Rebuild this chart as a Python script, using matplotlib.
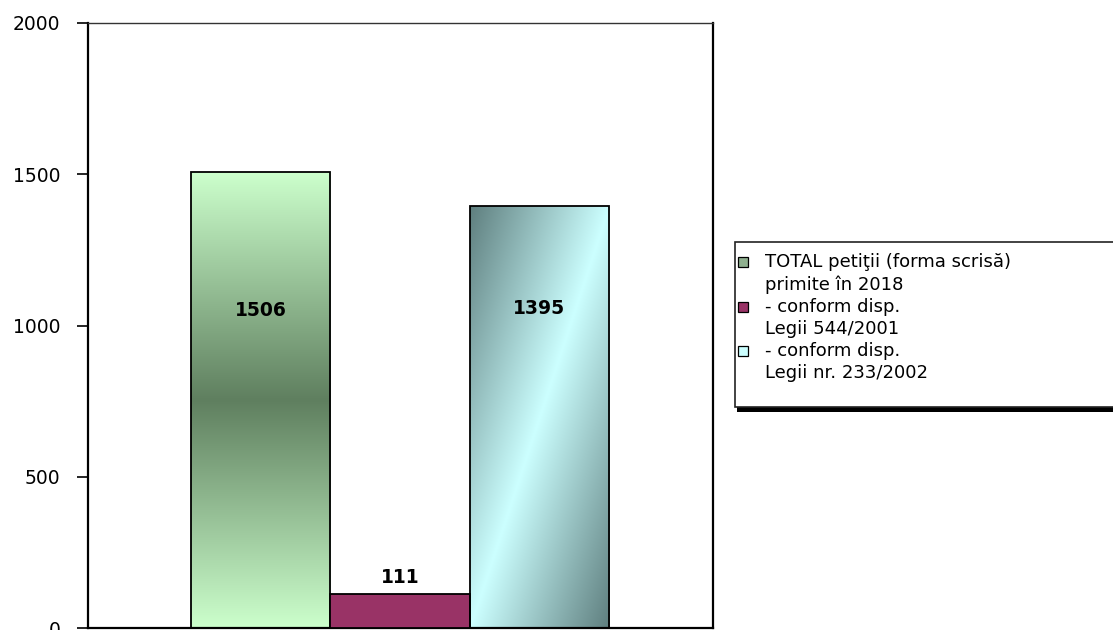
import numpy as np
import matplotlib
matplotlib.use("Agg")
import matplotlib.pyplot as plt
from matplotlib.patches import Rectangle
from matplotlib.colors import to_rgb

# Petition counts received in 2018
series_labels = [
    "TOTAL petiţii (forma scrisă)\nprimite în 2018",
    "- conform disp.\nLegii 544/2001",
    "- conform disp.\nLegii nr. 233/2002",
]
values = [1506, 111, 1395]
y_ticks = [0, 500, 1000, 1500, 2000]

plt.rcParams["font.family"] = ["DejaVu Sans"]

W, H = 1113, 630
fig = plt.figure(figsize=(W / 100, H / 100), dpi=100)
ax = fig.add_axes([88 / W, 2 / H, (713 - 88) / W, (628 - 23) / H])

offsets = [-1.0, 0.0, 1.0]
width = 1.0

light_green, dark_green = np.array(to_rgb("#CCFFCC")), np.array(to_rgb("#5F7F5F"))
light_teal, dark_teal = np.array(to_rgb("#CCFFFF")), np.array(to_rgb("#5F7F7F"))
solid_plum = "#993366"


def vertical_band(n=256):
    # light at top and bottom, dark in the middle
    v = np.linspace(0, 1, n)[:, None]
    f = 1 - np.abs(2 * v - 1)
    img = light_green[None, None, :] * (1 - f[..., None]) + dark_green[None, None, :] * f[..., None]
    return np.repeat(img, 4, axis=1)


def diagonal_band(ny=256, nx=128):
    # dark at top-left and bottom-right corners, light along the other diagonal
    v = np.linspace(0, 1, ny)[:, None]
    u = np.linspace(0, 1, nx)[None, :]
    f = np.abs(u + v - 1)
    return light_teal[None, None, :] * (1 - f[..., None]) + dark_teal[None, None, :] * f[..., None]


fills = [vertical_band(), None, diagonal_band()]

for off, val, fill in zip(offsets, values, fills):
    x0 = off - width / 2
    if fill is None:
        ax.bar(off, val, width=width, color=solid_plum, edgecolor="black",
               linewidth=1.3, zorder=3)
    else:
        bars = ax.bar(off, val, width=width, facecolor="none", edgecolor="black",
                      linewidth=1.3, zorder=3)
        im = ax.imshow(fill, extent=(x0, x0 + width, 0, val), aspect="auto",
                       origin="upper", zorder=2, interpolation="bilinear")
        im.set_clip_path(bars.patches[0])

# value labels
label_y = [1050, values[1] + 55, 1055]
for off, val, ly in zip(offsets, values, label_y):
    ax.text(off, ly, str(val), ha="center", va="center", fontsize=13.5,
            fontweight="bold", color="black", zorder=5)

ax.set_xlim(-2.24, 2.246)
ax.set_ylim(0, 2000)
ax.set_yticks(y_ticks)
ax.set_xticks([])
ax.tick_params(axis="y", direction="out", length=8, width=1.2, pad=12,
               labelsize=13.5, colors="black")
for side in ["left", "right", "bottom"]:
    ax.spines[side].set_linewidth(1.6)
    ax.spines[side].set_color("black")
ax.spines["top"].set_linewidth(1.0)
ax.spines["top"].set_color("#333333")


# legend box with shadow, in figure pixels
def fx(px):
    return px / W


def fy(py):
    return 1 - py / H


box_l, box_t, box_r, box_b = 735, 242, 1125, 407
fig.add_artist(Rectangle((fx(box_l + 2), fy(box_b + 5)), fx(box_r - box_l), (box_b - box_t) / H,
                         transform=fig.transFigure, facecolor="black", edgecolor="none", zorder=5))
fig.add_artist(Rectangle((fx(box_l), fy(box_b)), fx(box_r - box_l), (box_b - box_t) / H,
                         transform=fig.transFigure, facecolor="white", edgecolor="#222222",
                         linewidth=1.2, zorder=6))

handle_colors = ["#8FB08F", solid_plum, "#CCFFFF"]
entry_first_line = [262, 307, 351]
line_step = 22.5
for lab, col, ty in zip(series_labels, handle_colors, entry_first_line):
    fig.add_artist(Rectangle((fx(738), fy(ty + 5)), fx(10), 10 / H,
                             transform=fig.transFigure, facecolor=col, edgecolor="black",
                             linewidth=0.9, zorder=7))
    for i, line in enumerate(lab.split("\n")):
        fig.text(fx(765), fy(ty + i * line_step), line, ha="left", va="center",
                 fontsize=13, color="black", zorder=7)

fig.savefig("out.png", dpi=100)
